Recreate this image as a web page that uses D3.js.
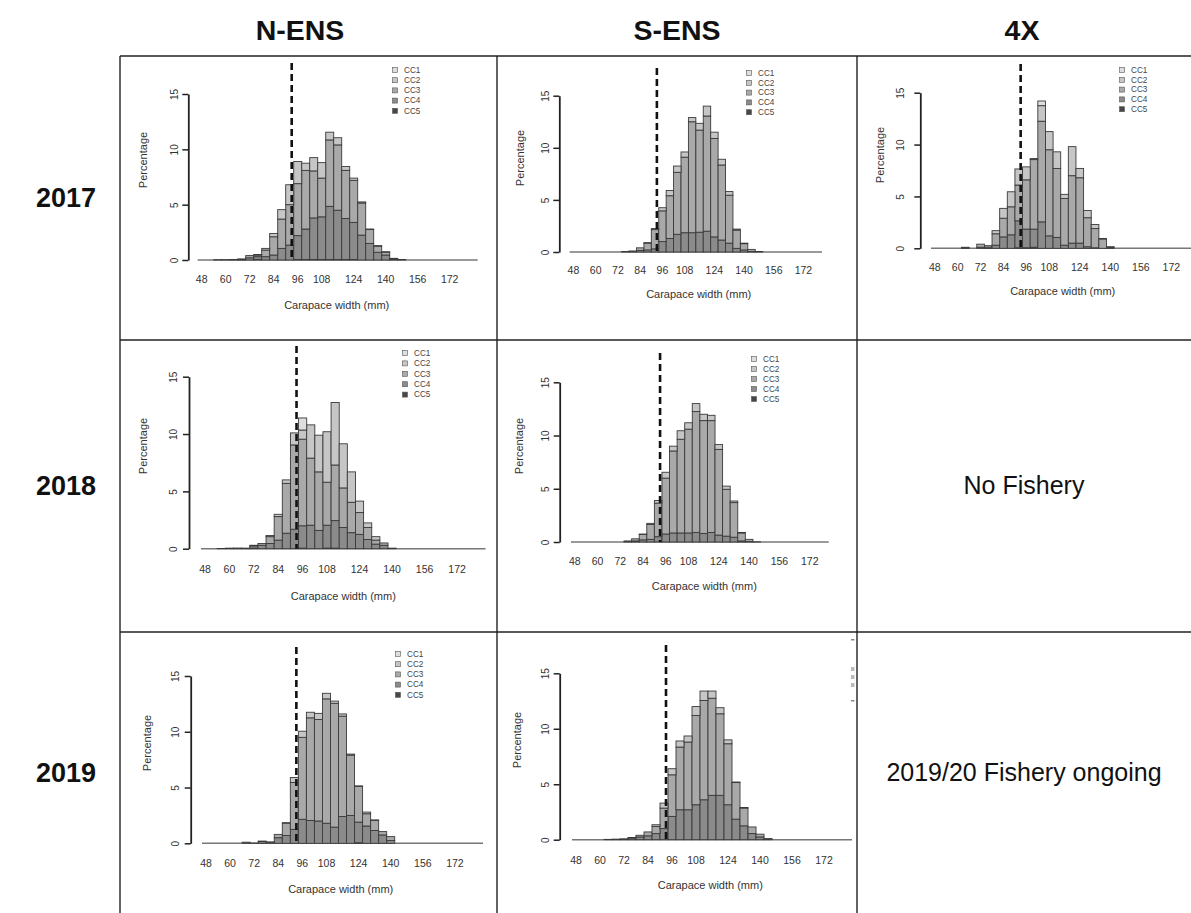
<!DOCTYPE html>
<html>
<head>
<meta charset="utf-8">
<script src="https://cdn.jsdelivr.net/npm/d3@7"></script>
<style>
  body { margin: 0; background: #fff; }
  svg { display: block; }
  text { font-family: "Liberation Sans", Arial, Helvetica, sans-serif; }
</style>
</head>
<body>
<svg id="fig" width="1191" height="913"></svg>
<script>
// ---- categories and labels ----
const regions = ["N-ENS", "S-ENS", "4X"];
const years = ["2017", "2018", "2019"];
const classes = ["CC1", "CC2", "CC3", "CC4", "CC5"];
const stackOrder = ["CC5", "CC4", "CC3", "CC2", "CC1"];   // bottom to top
const classColors = { CC1: "#dedede", CC2: "#c6c6c6", CC3: "#a9a9a9", CC4: "#8b8b8b", CC5: "#474747" };
const allBins = [48, 52, 56, 60, 64, 68, 72, 76, 80, 84, 88, 92, 96, 100, 104, 108, 112, 116,
                 120, 124, 128, 132, 136, 140, 144, 148, 152, 156, 160, 164, 168, 172, 176, 180, 184];
const sizeBins = [56, 60, 64, 68, 72, 76, 80, 84, 88, 92, 96, 100, 104, 108, 112, 116,
                  120, 124, 128, 132, 136, 140, 144, 148];
const xTickLabels = [48, 60, 72, 84, 96, 108, 124, 140, 156, 172];
const yTickValues = [0, 5, 10, 15];
const legalSize = 95;
const xTitle = "Carapace width (mm)";
const yTitle = "Percentage";
const noFishery = "No Fishery";
const ongoing = "2019/20 Fishery ongoing";

// ---- percentage by shell condition, per 4 mm bin (bins 56 .. 148) ----
// N-ENS 2017
const nens2017_cc1 = [0,0,0,0,0,0,0,0,0,0,0,0,0,0,0,0,0,0,0,0,0,0,0,0];
const nens2017_cc2 = [0,0,0,0,0,.05,.15,.3,.85,1.8,2.0,.65,1.2,1.4,.7,.65,.35,.2,.1,.05,.05,.05,0,0];
const nens2017_cc3 = [0,0,0,0,.2,.15,.6,1.65,2.65,3.65,4.7,5.3,4.25,3.5,6.0,5.9,4.35,3.8,2.9,1.25,.55,.25,.05,0];
const nens2017_cc4 = [.03,.03,.05,.08,.2,.25,.3,.45,1.05,1.35,2.15,2.75,3.75,3.85,4.8,4.45,3.7,3.35,2.25,1.5,.7,.45,.1,.05];
const nens2017_cc5 = [0,0,0,.02,0,.05,0,0,0,0,.05,.05,.05,.05,.05,.05,.05,.05,0,0,0,0,0,0];
// S-ENS 2017
const sens2017_cc1 = [0,0,0,0,0,0,0,0,0,0,0,0,0,0,0,0,0,0,0,0,0,0,0,0];
const sens2017_cc2 = [0,0,0,0,0,0,0,0,.05,.1,.3,.5,.6,.5,.4,.65,.95,.6,.55,.35,.1,.05,0,0];
const sens2017_cc3 = [0,0,0,0,0,0,.05,.25,.65,1.85,2.95,4.1,5.95,7.25,10.65,9.8,11.05,9.45,7.2,4.6,1.75,.6,.2,.05];
const sens2017_cc4 = [0,0,0,0,0,.05,.05,.15,.2,.3,1.0,1.3,1.7,1.85,1.85,1.9,2.0,1.45,1.15,.85,.35,.2,.05,0];
const sens2017_cc5 = [0,0,0,0,0,0,0,0,0,0,0,0,0,0,0,0,0,0,0,0,0,0,0,0];
// 4X 2017
const x42017_cc1 = [0,0,0,0,0,0,0,0,0,0,0,0,.45,0,0,0,0,0,0,0,0,0,0,0];
const x42017_cc2 = [0,0,0,0,0,0,.3,.95,1.45,1.55,1.25,.1,1.5,1.75,1.6,.4,2.8,.9,.7,.4,.05,0,0,0];
const x42017_cc3 = [0,0,0,0,.3,0,1.1,1.8,2.7,3.45,4.75,6.7,9.7,8.3,6.65,4.5,6.5,6.3,2.8,1.85,.9,0,0,0];
const x42017_cc4 = [0,0,0,0,.1,.2,.3,1.1,1.3,2.6,1.8,1.75,2.55,1.2,1.05,.3,.5,.5,.15,.05,0,.05,0,0];
const x42017_cc5 = [0,0,.1,0,0,.05,0,0,0,.05,.05,.1,0,0,0,0,0,0,0,0,0,.1,0,0];
// N-ENS 2018
const nens2018_cc1 = [0,0,0,0,0,0,0,0,0,0,1.05,0,0,0,0,0,0,0,0,0,0,0,0,0];
const nens2018_cc2 = [0,0,0,0,0,0,.1,.2,.3,1.05,.8,2.9,3.2,4.4,5.45,3.85,2.65,1.0,.4,.3,0,0,0,0];
const nens2018_cc3 = [0,0,0,0,.05,.15,.6,2.05,4.35,7.35,7.55,5.85,5.1,3.75,4.85,3.45,2.65,1.9,1.05,.35,.2,.05,0,0];
const nens2018_cc4 = [.02,.05,.02,.05,.2,.3,.45,.75,1.35,1.7,1.95,2.05,1.6,2.0,2.4,1.85,1.4,1.25,.8,.4,.3,0,0,0];
const nens2018_cc5 = [0,0,.03,0,.05,0,0,0,0,0,.05,0,0,.05,.05,0,0,0,0,0,0,0,0,0];
// S-ENS 2018
const sens2018_cc1 = [0,0,0,0,0,0,0,0,0,0,0,0,0,0,0,0,0,0,0,0,0,0,0,0];
const sens2018_cc2 = [0,0,0,0,0,0,0,.05,.1,.25,.55,.45,.8,.6,.75,.6,.5,.45,.3,.15,.05,0,0,0];
const sens2018_cc3 = [0,0,0,0,0,.05,.2,.5,1.4,3.15,5.25,7.7,8.8,9.75,11.35,10.6,10.5,8.05,4.4,3.25,.75,.2,.02,0];
const sens2018_cc4 = [0,0,0,0,0,.05,.1,.2,.25,.5,.75,.85,.85,.85,.9,.8,.9,.65,.55,.45,.1,.05,0,0];
const sens2018_cc5 = [0,0,0,0,0,0,0,0,0,0,0,0,0,0,0,0,0,0,0,0,0,0,0,0];
// N-ENS 2019
const nens2019_cc1 = [0,0,0,0,0,0,0,0,0,0,0,0,0,0,0,0,0,0,0,0,0,0,0,0];
const nens2019_cc2 = [0,0,0,0,0,0,0,0,.05,.45,.55,.5,.55,.5,.2,.2,.1,.05,.15,.05,0,0,0,0];
const nens2019_cc3 = [0,0,0,0,0,.05,.02,.3,1.1,4.2,7.35,9.2,9.1,11.15,11.1,9.0,5.4,3.2,1.1,.9,.3,.35,0,0];
const nens2019_cc4 = [0,0,0,.1,.02,.15,.1,.5,.7,1.25,2.15,2.05,2.0,1.8,1.45,2.4,2.5,1.85,1.55,1.15,.75,.25,0,0];
const nens2019_cc5 = [0,0,0,0,0,0,0,0,0,0,0,0,0,0,0,0,0,.05,0,0,0,0,0,0];
// S-ENS 2019
const sens2019_cc1 = [0,0,0,0,0,0,0,0,0,0,0,0,0,0,0,0,0,0,0,0,0,0,0,0];
const sens2019_cc2 = [0,0,0,0,0,0,0,0,.15,.45,.55,.55,.55,.8,.85,.65,.55,.35,.05,.05,0,0,0,0];
const sens2019_cc3 = [0,0,0,0,0,.05,.15,.35,.65,1.85,3.75,5.65,6.1,8.05,8.95,8.75,7.35,5.5,3.3,1.6,.6,.25,.05,0];
const sens2019_cc4 = [0,0,.03,.05,.08,.15,.25,.35,.55,1.0,2.1,2.7,2.7,3.15,3.6,4.0,4.0,3.15,1.85,1.25,.55,.25,.05,0];
const sens2019_cc5 = [0,0,0,0,0,0,0,0,0,0,0,0,0,0,0,0,0,0,0,0,0,0,0,0];

const panelSeries = {
  "N-ENS 2017": { CC1: nens2017_cc1, CC2: nens2017_cc2, CC3: nens2017_cc3, CC4: nens2017_cc4, CC5: nens2017_cc5 },
  "S-ENS 2017": { CC1: sens2017_cc1, CC2: sens2017_cc2, CC3: sens2017_cc3, CC4: sens2017_cc4, CC5: sens2017_cc5 },
  "4X 2017":    { CC1: x42017_cc1,   CC2: x42017_cc2,   CC3: x42017_cc3,   CC4: x42017_cc4,   CC5: x42017_cc5 },
  "N-ENS 2018": { CC1: nens2018_cc1, CC2: nens2018_cc2, CC3: nens2018_cc3, CC4: nens2018_cc4, CC5: nens2018_cc5 },
  "S-ENS 2018": { CC1: sens2018_cc1, CC2: sens2018_cc2, CC3: sens2018_cc3, CC4: sens2018_cc4, CC5: sens2018_cc5 },
  "N-ENS 2019": { CC1: nens2019_cc1, CC2: nens2019_cc2, CC3: nens2019_cc3, CC4: nens2019_cc4, CC5: nens2019_cc5 },
  "S-ENS 2019": { CC1: sens2019_cc1, CC2: sens2019_cc2, CC3: sens2019_cc3, CC4: sens2019_cc4, CC5: sens2019_cc5 }
};

// ---- page layout ----
const W = 1191, H = 913;
const tableTop = 56, tableLeft = 120;
const colEdges = [120, 497, 857, 1191];
const rowEdges = [56, 340, 632, 913];
const headerX = [300, 677, 1022];

// placement of each histogram inside its table cell
const panels = [
  { key: "N-ENS 2017", x0: 197.7, bw: 8.0,  nb: 35, axisX: 188.3, y0: 260,   y15: 94,    dashTop: 63,  tickY: 279, titleX: 336.7, titleY: 305, yTitleX: 143.3, yTitleY: 160, yLabX: 174,   legend: [395, 70, 10.2] },
  { key: "S-ENS 2017", x0: 569.7, bw: 7.42, nb: 34, axisX: 559.3, y0: 252,   y15: 95.7,  dashTop: 68,  tickY: 270, titleX: 698.7, titleY: 294, yTitleX: 520.3, yTitleY: 158, yLabX: 545,   legend: [749, 73, 9.8] },
  { key: "4X 2017",    x0: 931,   bw: 7.63, nb: 35, axisX: 920.3, y0: 248.3, y15: 92.7,  dashTop: 64,  tickY: 267, titleX: 1062.7, titleY: 291, yTitleX: 879.7, yTitleY: 155, yLabX: 900,  legend: [1122, 70, 9.8] },
  { key: "N-ENS 2018", x0: 201,   bw: 8.13, nb: 35, axisX: 189,   y0: 548.7, y15: 376.7, dashTop: 346, tickY: 569, titleX: 343.3, titleY: 596, yTitleX: 143.3, yTitleY: 446, yLabX: 173,   legend: [405, 353, 10.4] },
  { key: "S-ENS 2018", x0: 571,   bw: 7.58, nb: 34, axisX: 559.7, y0: 542,   y15: 382.3, dashTop: 353, tickY: 561, titleX: 704.3, titleY: 586, yTitleX: 518.7, yTitleY: 446, yLabX: 545.5, legend: [754, 359, 10] },
  { key: "N-ENS 2019", x0: 202,   bw: 8.03, nb: 35, axisX: 190.7, y0: 843.3, y15: 676,   dashTop: 647, tickY: 863, titleX: 340.7, titleY: 889, yTitleX: 146.7, yTitleY: 743, yLabX: 175,   legend: [398, 654, 10.2] },
  { key: "S-ENS 2019", x0: 572,   bw: 8.0,  nb: 35, axisX: 559.7, y0: 839.7, y15: 673.3, dashTop: 645, tickY: 860, titleX: 710.3, titleY: 885, yTitleX: 517,   yTitleY: 740, yLabX: 545,   legend: null }
];

const svg = d3.select("#fig");
svg.append("rect").attr("width", W).attr("height", H).attr("fill", "#fff");

// ---- table grid ----
const grid = svg.append("g").attr("stroke", "#222").attr("stroke-width", 1.4);
rowEdges.slice(0, 3).forEach(y => grid.append("line").attr("x1", tableLeft).attr("x2", W).attr("y1", y).attr("y2", y));
colEdges.slice(0, 3).forEach(x => grid.append("line").attr("x1", x).attr("x2", x).attr("y1", tableTop).attr("y2", H));

// column headers and row labels
regions.forEach((r, i) => {
  svg.append("text")
    .attr("x", headerX[i]).attr("y", 40)
    .attr("text-anchor", "middle").attr("font-size", 28.5).attr("font-weight", "bold").attr("fill", "#111")
    .text(r);
});
years.forEach((yr, i) => {
  svg.append("text")
    .attr("x", 66).attr("y", (rowEdges[i] + rowEdges[i + 1]) / 2 + 9)
    .attr("text-anchor", "middle").attr("font-size", 27).attr("font-weight", "bold").attr("fill", "#111")
    .text(yr);
});

// notes in the empty 4X cells
const cx4 = (colEdges[2] + colEdges[3]) / 2;
svg.append("text").attr("x", cx4).attr("y", (rowEdges[1] + rowEdges[2]) / 2 + 8)
  .attr("text-anchor", "middle").attr("font-size", 25).attr("fill", "#111").text(noFishery);
svg.append("text").attr("x", cx4).attr("y", (rowEdges[2] + rowEdges[3]) / 2 + 8)
  .attr("text-anchor", "middle").attr("font-size", 25).attr("fill", "#111").text(ongoing);

// ---- histograms ----
const stack = d3.stack().keys(stackOrder);

panels.forEach(p => {
  const s = panelSeries[p.key];
  const rows = sizeBins.map((b, i) => {
    const r = { bin: b };
    classes.forEach(c => { r[c] = s[c][i]; });
    return r;
  });
  const layers = stack(rows);

  const bins = allBins.slice(0, p.nb);
  const x = d3.scaleBand().domain(bins).range([p.x0, p.x0 + p.bw * p.nb]).padding(0);
  const xmm = d3.scaleLinear().domain([bins[0], bins[bins.length - 1] + 4]).range([p.x0, p.x0 + p.bw * p.nb]);
  const y = d3.scaleLinear().domain([0, 15]).range([p.y0, p.y15]);

  const g = svg.append("g");

  // empty bins show as a flat line along zero
  g.append("line")
    .attr("x1", x.range()[0]).attr("x2", x.range()[1])
    .attr("y1", y(0)).attr("y2", y(0))
    .attr("stroke", "#777").attr("stroke-width", 1.5);

  // stacked bars
  layers.forEach(layer => {
    g.append("g").attr("fill", classColors[layer.key])
      .selectAll("rect")
      .data(layer.filter(d => d[1] - d[0] > 0))
      .join("rect")
      .attr("x", d => x(d.data.bin))
      .attr("width", x.bandwidth())
      .attr("y", d => y(d[1]))
      .attr("height", d => y(d[0]) - y(d[1]))
      .attr("stroke", "#3a3a3a").attr("stroke-width", 0.9);
  });

  // legal size line
  g.append("line")
    .attr("x1", xmm(legalSize)).attr("x2", xmm(legalSize))
    .attr("y1", p.dashTop).attr("y2", y(0))
    .attr("stroke", "#111").attr("stroke-width", 2.6).attr("stroke-dasharray", "7,4");

  // y axis
  const yAxis = g.append("g")
    .attr("transform", `translate(${p.axisX},0)`)
    .call(d3.axisLeft(y).tickValues(yTickValues).tickSize(6).tickSizeOuter(0).tickFormat(d3.format("d")));
  yAxis.select(".domain").attr("stroke", "#222").attr("stroke-width", 1.8);
  yAxis.selectAll(".tick line").attr("stroke", "#222").attr("stroke-width", 1.5);
  yAxis.selectAll(".tick text")
    .attr("x", null).attr("dy", null)
    .attr("transform", `translate(${p.yLabX - p.axisX},0) rotate(-90)`)
    .attr("dy", "0.35em")
    .attr("text-anchor", "middle")
    .attr("font-size", 10).attr("fill", "#333")
    .attr("font-family", null);

  // x labels under the bars
  const xAxis = g.append("g")
    .attr("transform", `translate(0,${p.tickY})`)
    .call(d3.axisBottom(x).tickValues(xTickLabels).tickSize(0).tickPadding(0));
  xAxis.select(".domain").remove();
  xAxis.selectAll(".tick text")
    .attr("y", 0).attr("dy", "0.35em")
    .attr("font-size", 10.5).attr("fill", "#333")
    .attr("font-family", null);

  // axis titles
  g.append("text").attr("x", p.titleX).attr("y", p.titleY).attr("dy", "0.35em")
    .attr("text-anchor", "middle").attr("font-size", 11).attr("fill", "#333").text(xTitle);
  g.append("text").attr("transform", `translate(${p.yTitleX},${p.yTitleY}) rotate(-90)`)
    .attr("dy", "0.35em")
    .attr("text-anchor", "middle").attr("font-size", 11).attr("fill", "#333").text(yTitle);

  // legend
  if (p.legend) {
    const [lx, ly, ldy] = p.legend;
    const lg = g.append("g");
    classes.forEach((c, i) => {
      const yy = ly + i * ldy;
      lg.append("rect").attr("x", lx - 2.5).attr("y", yy - 2.5).attr("width", 5).attr("height", 5)
        .attr("fill", classColors[c]).attr("stroke", "#555").attr("stroke-width", 0.6);
      lg.append("text").attr("x", lx + 9).attr("y", yy).attr("dy", "0.35em")
        .attr("font-size", 8.2).attr("fill", "#444").text(c);
    });
  }
});

// S-ENS 2019: the legend sits past the cell edge, only a sliver is left
const clip = svg.append("clipPath").attr("id", "sens19clip");
clip.append("rect").attr("x", 840).attr("y", 632).attr("width", 14.5).attr("height", 100);
const sliver = svg.append("g").attr("clip-path", "url(#sens19clip)");
[640, 668, 676, 684, 701].forEach((yy, i) => {
  sliver.append("rect").attr("x", 851).attr("y", yy - 1).attr("width", 5).attr("height", i === 0 || i === 4 ? 1.5 : 4)
    .attr("fill", i === 0 || i === 4 ? "#888" : "#bbb");
});
</script>
</body>
</html>
